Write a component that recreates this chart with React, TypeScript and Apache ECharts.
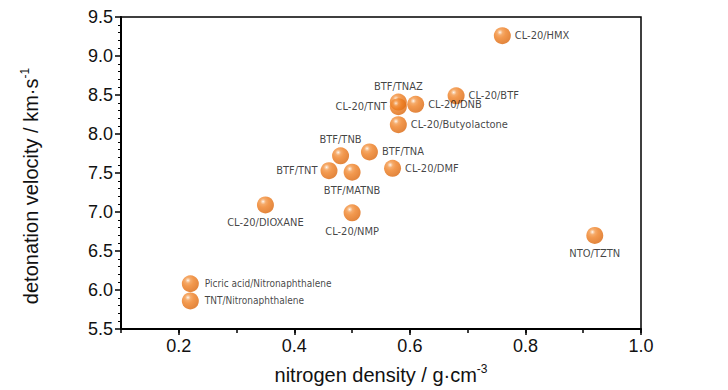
import React, { useEffect, useRef } from "react";
import * as echarts from "echarts";

const names = [
  "CL-20/HMX", "CL-20/BTF", "CL-20/DNB", "BTF/TNAZ", "CL-20/TNT", "CL-20/Butyolactone",
  "BTF/TNA", "CL-20/DMF", "BTF/TNB", "BTF/TNT", "BTF/MATNB", "CL-20/DIOXANE",
  "CL-20/NMP", "NTO/TZTN", "Picric acid/Nitronaphthalene", "TNT/Nitronaphthalene",
];
const nitrogenDensity = [0.76, 0.68, 0.61, 0.58, 0.58, 0.58, 0.53, 0.57, 0.48, 0.46, 0.50, 0.35, 0.50, 0.92, 0.22, 0.22];
const detonationVelocity = [9.26, 8.49, 8.38, 8.41, 8.35, 8.12, 7.77, 7.56, 7.72, 7.53, 7.51, 7.09, 6.99, 6.70, 6.08, 5.86];
const labelPlaces = [
  "right", "right", "rightLow", "topLeft", "left", "rightLow",
  "right", "rightLow", "topLeft", "left", "bottom", "bottom",
  "bottomRight", "bottom", "rightSmall", "rightSmall",
];
const xTickLabels = [0.2, 0.4, 0.6, 0.8, 1.0];

const NARROW = "'Liberation Sans Narrow', 'Arial Narrow', 'DejaVu Sans Condensed', sans-serif";
const SANS = "'Liberation Sans', Arial, sans-serif";

function labelFor(place: string) {
  const base: any = { show: true, formatter: "{b}", fontFamily: NARROW, fontSize: 11, color: "#111" };
  switch (place) {
    case "right": return { ...base, position: "right", distance: 4 };
    case "rightLow": return { ...base, position: "right", distance: 4, offset: [0, 4] };
    case "rightSmall": return { ...base, position: "right", distance: 6, fontSize: 10 };
    case "left": return { ...base, position: "left", distance: 3 };
    case "topLeft": return { ...base, position: "top", distance: 2, offset: [-20, 0] };
    case "bottom": return { ...base, position: "bottom", distance: 4 };
    case "bottomRight": return { ...base, position: "bottom", distance: 5, offset: [26, 0] };
    default: return base;
  }
}

export default function App() {
  const ref = useRef<HTMLDivElement>(null);
  useEffect(() => {
    document.body.style.margin = "0";
    if (!ref.current) return;
    const chart = echarts.init(ref.current, null, { renderer: "svg" });
    const ball = {
      type: "radial", x: 0.36, y: 0.3, r: 0.75,
      colorStops: [
        { offset: 0, color: "#ffffff" },
        { offset: 0.07, color: "#F9D2AE" },
        { offset: 0.22, color: "#F39646" },
        { offset: 0.45, color: "#EF7F22" },
        { offset: 1, color: "#D9640A" },
      ],
    };
    const data = names.map((n, i) => ({
      name: n,
      value: [nitrogenDensity[i], detonationVelocity[i]],
      label: labelFor(labelPlaces[i]),
    }));
    chart.setOption({
      animation: false,
      backgroundColor: "#fff",
      grid: { left: 121, right: 87, top: 17, bottom: 61, show: true, borderColor: "#000", borderWidth: 1.5, backgroundColor: "transparent" },
      xAxis: [
        {
          type: "value", min: 0.1, max: 1.0, interval: 0.1,
          axisLine: { show: true, onZero: false, lineStyle: { color: "#000", width: 2 } },
          axisTick: { show: true, length: 4, lineStyle: { color: "#000", width: 1.5 } },
          axisLabel: {
            fontFamily: SANS, fontSize: 18, color: "#111", margin: 8,
            formatter: (v: number) => {
              const k = Math.round(v * 10);
              return xTickLabels.some((t) => Math.round(t * 10) === k) ? (k / 10).toFixed(1) : "";
            },
          },
          splitLine: { show: false },
          name: "{a|nitrogen density / g·cm}{s|-3}",
          nameLocation: "middle", nameGap: 34,
          nameTextStyle: {
            rich: {
              a: { fontFamily: SANS, fontSize: 20, color: "#111" },
              s: { fontFamily: SANS, fontSize: 12, color: "#111", verticalAlign: "top", padding: [0, 0, 12, 0] },
            },
          },
        },
        {
          type: "value", min: 0.1, max: 1.0, position: "bottom",
          axisLine: { show: false },
          axisLabel: { show: false },
          splitLine: { show: false },
          axisTick: { show: true, length: 6, customValues: xTickLabels, lineStyle: { color: "#000", width: 1.5 } },
        },
      ],
      yAxis: {
        type: "value", min: 5.5, max: 9.5, interval: 0.5,
        axisLine: { show: true, onZero: false, lineStyle: { color: "#000", width: 2 } },
        axisTick: { show: true, length: 6, lineStyle: { color: "#000", width: 1.5 } },
        minorTick: { show: true, splitNumber: 5, length: 3, lineStyle: { color: "#000", width: 1 } },
        axisLabel: { fontFamily: SANS, fontSize: 18, color: "#111", margin: 8, formatter: (v: number) => v.toFixed(1) },
        splitLine: { show: false },
        name: "{a|detonation velocity / km·s}{s|-1}",
        nameLocation: "middle", nameGap: 78,
        nameTextStyle: {
          padding: [0, 26, 0, 0],
          rich: {
            a: { fontFamily: SANS, fontSize: 20, color: "#111" },
            s: { fontFamily: SANS, fontSize: 12, color: "#111", verticalAlign: "top", padding: [0, 0, 12, 0] },
          },
        },
      },
      series: [
        {
          type: "scatter",
          symbol: "circle",
          symbolSize: 17,
          itemStyle: { color: ball as any },
          data,
          labelLayout: { hideOverlap: false },
        },
      ],
    });
    return () => chart.dispose();
  }, []);
  return <div ref={ref} style={{ width: 728, height: 390 }} />;
}
